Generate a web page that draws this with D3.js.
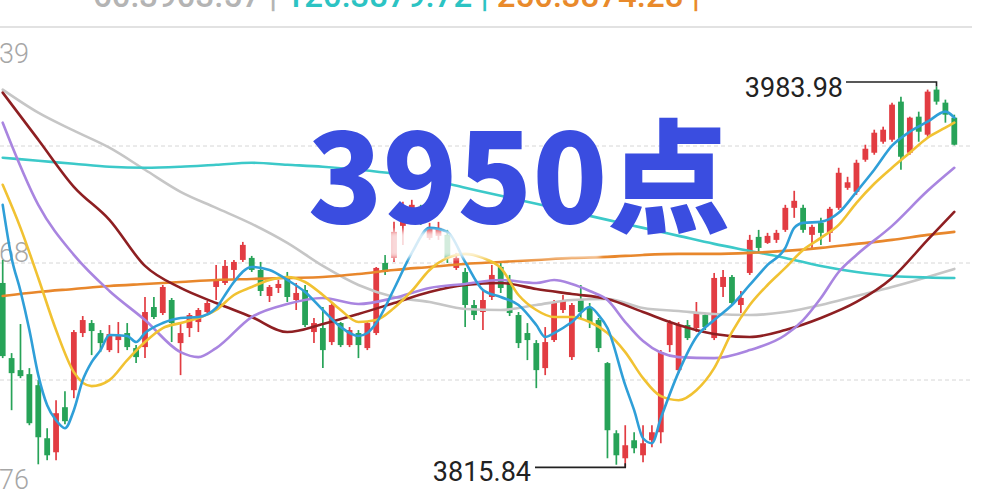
<!DOCTYPE html>
<html><head><meta charset="utf-8">
<script src="https://cdn.jsdelivr.net/npm/d3@7"></script>
<style>html,body{margin:0;padding:0;background:#fff;overflow:hidden}</style>
</head><body>
<svg id="c" width="986" height="493"></svg>
<script>
// ---- data ----
const opens = [3897.26,3864.09,3858.78,3857.01,3852.14,3828.70,3822.51,3842.41,3849.93,3875.15,3879.56,3875.15,3867.62,3872.05,3875.15,3868.51,3868.95,3886.64,3883.99,3889.74,3870.72,3877.36,3880.01,3884.43,3895.49,3897.26,3903.01,3907.43,3908.32,3903.01,3891.51,3895.05,3899.91,3889.74,3894.16,3875.59,3877.36,3871.17,3879.56,3869.84,3875.15,3868.51,3875.15,3906.10,3908.32,3922.47,3927.78,3930.87,3917.16,3918.05,3918.49,3903.89,3902.12,3887.53,3884.43,3891.07,3904.34,3898.59,3883.10,3875.15,3870.72,3859.67,3872.05,3885.32,3864.53,3889.74,3886.64,3880.89,3861.88,3830.91,3819.86,3827.81,3821.18,3827.81,3831.35,3869.84,3858.78,3878.68,3877.36,3883.10,3872.93,3895.49,3899.91,3887.53,3901.68,3917.60,3914.95,3916.28,3920.70,3930.43,3930.43,3918.49,3923.80,3919.38,3930.43,3939.27,3937.51,3951.66,3954.76,3959.62,3960.51,3977.32,3954.76,3970.68,3962.72,3982.63,3976.87,3970.24];
const highs = [3907.43,3866.30,3879.12,3859.67,3854.36,3833.13,3845.51,3849.49,3876.47,3882.66,3880.89,3876.47,3878.68,3880.01,3879.56,3869.84,3891.07,3891.07,3896.37,3890.63,3880.01,3883.99,3886.20,3889.30,3905.22,3907.43,3907.43,3915.39,3909.20,3906.55,3896.37,3898.59,3902.12,3897.26,3896.37,3881.78,3886.64,3888.41,3880.01,3877.80,3876.47,3880.45,3904.30,3909.64,3924.24,3933.09,3933.97,3931.76,3923.80,3924.24,3920.70,3910.53,3903.89,3889.74,3893.72,3905.22,3906.10,3900.80,3884.43,3879.56,3872.05,3877.80,3889.74,3891.95,3888.41,3896.37,3888.41,3881.78,3862.32,3832.24,3834.45,3831.35,3834.45,3834.45,3867.62,3880.89,3880.01,3880.89,3888.86,3883.99,3901.68,3903.01,3900.80,3893.72,3918.49,3920.70,3919.38,3920.70,3931.76,3937.95,3931.76,3922.91,3926.01,3930.87,3948.12,3944.14,3951.66,3958.30,3964.93,3966.26,3976.87,3979.53,3970.68,3972.89,3982.63,3983.98,3978.20,3971.56];
const lows = [3864.09,3841.09,3855.25,3834.45,3817.20,3819.00,3818.97,3834.89,3846.40,3873.38,3865.41,3866.74,3866.74,3866.30,3867.62,3861.88,3864.09,3881.34,3883.10,3871.17,3856.57,3873.38,3875.59,3883.99,3889.74,3896.37,3898.59,3906.55,3902.12,3891.51,3888.86,3892.84,3888.86,3885.32,3877.80,3870.72,3859.67,3869.84,3868.95,3868.95,3864.09,3867.62,3874.26,3900.80,3906.55,3914.07,3926.01,3922.91,3916.28,3916.28,3906.10,3903.01,3877.80,3880.89,3876.47,3889.74,3892.84,3882.66,3868.51,3863.20,3850.82,3856.57,3871.17,3883.99,3863.20,3881.78,3877.36,3866.74,3819.86,3817.00,3815.84,3822.06,3818.09,3824.72,3826.49,3866.74,3857.45,3872.05,3875.59,3876.47,3872.05,3891.07,3887.53,3883.99,3900.80,3910.53,3914.51,3914.95,3919.81,3926.01,3919.38,3912.74,3914.07,3915.39,3929.55,3938.39,3936.18,3950.78,3953.87,3958.74,3959.62,3947.24,3953.87,3959.62,3961.84,3975.99,3968.03,3958.00];
const closes = [3864.97,3857.45,3856.13,3835.34,3829.14,3821.18,3839.76,3836.22,3875.59,3880.89,3876.03,3870.72,3874.70,3874.26,3868.95,3864.53,3884.43,3882.22,3895.49,3879.56,3875.15,3883.10,3885.32,3888.41,3898.59,3904.78,3906.55,3914.07,3903.01,3893.72,3895.49,3896.82,3891.07,3892.84,3878.68,3879.56,3867.62,3887.53,3869.84,3876.47,3869.84,3879.56,3903.89,3902.12,3919.81,3931.32,3931.76,3926.01,3921.59,3921.59,3908.32,3908.32,3887.53,3883.10,3889.74,3900.80,3895.05,3883.99,3870.72,3872.05,3858.78,3871.17,3888.86,3889.74,3887.53,3884.43,3880.01,3868.51,3832.24,3821.18,3825.61,3824.28,3826.49,3831.35,3866.74,3879.56,3878.68,3872.93,3884.43,3877.80,3899.47,3899.91,3888.41,3890.63,3916.28,3912.74,3918.05,3919.38,3930.43,3933.53,3920.70,3922.03,3919.38,3929.99,3945.91,3941.71,3950.33,3956.53,3963.60,3964.93,3975.99,3952.99,3970.24,3964.04,3981.74,3977.32,3971.56,3958.30];

const ma5Days = [0,1,2,3,4,5,6,7,8,9,10,11,12,14,15,16,18,20,22,24,25,26,28,30,32,34,36,38,40,41,42,44,46,48,50,52,54,56,58,60,61,62,64,66,67,68,70,71,72,73,74,76,78,80,82,84,86,88,89,90,92,94,96,98,100,102,104,106,107];
const ma5 = [3931.76,3908.32,3893.72,3876.47,3856.57,3843.30,3836.67,3833.13,3841.09,3854.36,3862.32,3867.62,3874.26,3873.82,3871.17,3875.15,3879.56,3881.78,3882.22,3886.20,3891.95,3897.70,3904.34,3903.01,3898.59,3893.28,3885.32,3877.80,3873.82,3875.15,3879.56,3894.61,3910.53,3921.59,3919.81,3906.55,3894.16,3891.07,3887.53,3878.68,3873.38,3875.15,3880.01,3886.64,3883.10,3877.36,3852.14,3841.09,3828.70,3826.49,3837.55,3857.89,3873.38,3880.89,3887.53,3896.37,3905.22,3912.74,3921.59,3923.80,3924.24,3928.22,3937.51,3947.24,3957.85,3964.04,3968.47,3972.89,3970.24];

const ma10Days = [0,2,4,6,8,10,12,14,16,18,20,22,24,26,28,30,32,34,36,38,40,42,44,46,48,50,52,54,56,58,60,62,64,66,68,70,72,74,76,78,80,82,84,86,88,90,92,94,96,98,100,102,104,106,107];
const ma10 = [3940.60,3921.59,3899.47,3876.47,3857.89,3851.70,3854.36,3863.20,3871.17,3877.36,3879.56,3881.78,3885.32,3891.95,3895.49,3898.59,3899.91,3897.70,3891.95,3885.32,3880.01,3880.89,3886.20,3893.72,3903.01,3908.32,3910.09,3908.32,3903.89,3891.95,3885.32,3882.22,3882.22,3880.01,3875.15,3866.74,3855.25,3847.28,3845.51,3849.93,3859.67,3875.59,3887.53,3896.37,3903.89,3911.86,3917.16,3922.91,3932.64,3941.05,3948.12,3954.76,3961.39,3965.81,3968.03];

const ma20Days = [0,4,8,12,16,20,22,24,28,32,36,40,44,48,52,56,60,62,64,66,68,70,72,76,80,84,88,90,92,94,96,100,104,107];
const ma20 = [3968.03,3931.76,3909.64,3893.72,3880.89,3866.74,3864.53,3868.51,3882.22,3887.97,3890.63,3887.97,3890.63,3895.05,3896.82,3898.59,3897.26,3898.59,3896.82,3893.72,3889.74,3880.01,3871.61,3864.53,3864.09,3867.62,3874.26,3880.89,3890.63,3902.12,3909.64,3922.47,3937.95,3948.12];

const slowDays = [0,4,8,12,16,20,24,28,32,36,40,44,48,52,56,60,64,68,72,76,80,84,88,92,96,100,104,107];
const ma30 = [3981.30,3960.51,3939.72,3925.12,3904.78,3895.05,3888.41,3882.22,3875.59,3879.12,3883.55,3888.41,3893.28,3896.37,3897.26,3894.61,3892.40,3890.19,3884.43,3878.68,3874.70,3873.38,3876.47,3881.78,3888.86,3899.47,3916.28,3928.66];
const ma60 = [3982.62,3972.45,3964.49,3956.97,3947.24,3937.51,3930.43,3923.35,3914.95,3904.78,3896.37,3891.07,3888.86,3885.76,3885.32,3887.53,3889.74,3890.19,3886.20,3884.87,3883.55,3883.10,3884.43,3887.53,3891.51,3895.49,3899.91,3903.45];
const ma120 = [3952.55,3951.22,3949.89,3948.57,3948.12,3948.57,3949.45,3950.33,3949.45,3948.57,3947.24,3945.47,3942.81,3939.27,3935.73,3932.20,3928.66,3925.12,3921.59,3918.05,3914.51,3911.41,3908.32,3904.78,3902.12,3900.36,3899.69,3899.47];
const ma250 = [3891.51,3893.28,3894.61,3895.93,3896.82,3897.70,3898.59,3899.03,3899.47,3899.91,3901.24,3903.01,3904.34,3905.66,3906.55,3907.43,3908.32,3908.76,3909.64,3910.09,3910.09,3910.53,3911.41,3912.74,3914.51,3916.28,3918.49,3919.81];

const axisLabels = ["4009.39","3906.68","3802.76"];
const legendParts = [["60:3903.57 | ","#b4b4b4"],["120:3879.72 | ","#2cc3c3"],["250:3874.28 |","#e98a2b"]];
const titleText = "3950点";

// ---- chart ----
const svg = d3.select('#c');
const yTop = 4009.39, yBot = 3802.76;
const y = d3.scaleLinear().domain([yBot, yTop]).range([497, 29]);
const x = d3.scaleLinear().domain([0, opens.length - 1]).range([2.7, 954.3]);

// legend row (scrolled partly out of view, as in the source)
const lg = svg.append('text').attr('x', 93).attr('y', 7)
  .style('font-family', 'Roboto, sans-serif').style('font-size', '33px').style('font-weight', 500);
legendParts.forEach(p => lg.append('tspan').attr('fill', p[1]).text(p[0]));

svg.append('line').attr('x1', 0).attr('x2', 972).attr('y1', 27).attr('y2', 27)
  .attr('stroke', '#e2e2e2').attr('stroke-width', 2);

// grid
const gridVals = [1, 2, 3].map(k => yTop - k * (yTop - yBot) / 4);
svg.selectAll('.grid').data(gridVals).enter().append('line')
  .attr('x1', 0).attr('x2', 972).attr('y1', d => y(d)).attr('y2', d => y(d))
  .attr('stroke', '#d6d6d6').attr('stroke-width', 1).attr('stroke-dasharray', '4,3');

// axis labels
const labY = [y(yTop) + 34, y((yTop + yBot) / 2) - 1, y(yBot) - 8];
svg.selectAll('.al').data(axisLabels).enter().append('text')
  .attr('x', 29).attr('y', (d, i) => labY[i]).attr('text-anchor', 'end')
  .attr('fill', '#a6a6a6').style('font-family', 'Roboto, sans-serif').style('font-weight', 300)
  .style('font-size', '27px').text(d => d);

// candles
const up = '#e23c42', dn = '#27a358';
const bw = 5.8;
const idx = d3.range(opens.length);
const cg = svg.append('g');
cg.selectAll('.wick').data(idx).enter().append('line')
  .attr('x1', i => x(i)).attr('x2', i => x(i))
  .attr('y1', i => y(highs[i])).attr('y2', i => y(lows[i]))
  .attr('stroke', i => closes[i] >= opens[i] ? up : dn).attr('stroke-width', 1.7);
cg.selectAll('.body').data(idx).enter().append('rect')
  .attr('x', i => x(i) - bw / 2).attr('width', bw)
  .attr('y', i => y(Math.max(opens[i], closes[i])))
  .attr('height', i => Math.max(1.2, Math.abs(y(opens[i]) - y(closes[i]))))
  .attr('fill', i => closes[i] >= opens[i] ? up : dn);

// moving averages
const lines = [
  [slowDays, ma60, '#c6c6c6'],
  [slowDays, ma120, '#3cc9c9'],
  [slowDays, ma250, '#e8872c'],
  [slowDays, ma30, '#8e1f22'],
  [ma20Days, ma20, '#a985e0'],
  [ma10Days, ma10, '#f1c232'],
  [ma5Days, ma5, '#2f9fd8']
];
const lineGen = d3.line().x(d => x(d[0])).y(d => y(d[1])).curve(d3.curveMonotoneX);
lines.forEach(([days, vals, col]) => {
  svg.append('path').datum(days.map((d, k) => [d, vals[k]]))
    .attr('d', lineGen).attr('fill', 'none').attr('stroke', col)
    .attr('stroke-width', 2.6).attr('stroke-linejoin', 'round').attr('stroke-linecap', 'round');
});

// faded watermark band
const defs = svg.append('defs');
defs.append('filter').attr('id', 'bl').append('feGaussianBlur').attr('stdDeviation', 2.5);
svg.append('rect').attr('x', 388).attr('y', 231).attr('width', 212).attr('height', 27)
  .attr('fill', '#fff').attr('opacity', 0.8).attr('filter', 'url(#bl)');

// title
svg.append('text').attr('x', 519).attr('y', 223).attr('text-anchor', 'middle')
  .attr('fill', '#3a4de0').style('font-family', '"Noto Sans CJK SC", "Noto Sans", sans-serif')
  .style('font-weight', 900).style('font-size', '123px').text(titleText);

// max / min annotations
const iMax = d3.maxIndex(highs), iMin = d3.minIndex(lows);
const yMax = y(highs[iMax]), yMin = y(lows[iMin]);
svg.append('path').attr('d', `M846,${yMax - 4.5}H${x(iMax)}V${yMax}`)
  .attr('fill', 'none').attr('stroke', '#222').attr('stroke-width', 1.6);
svg.append('text').attr('x', 843).attr('y', yMax + 10).attr('text-anchor', 'end')
  .attr('fill', '#222').style('font-family', 'Roboto, sans-serif').style('font-size', '27px')
  .text(highs[iMax].toFixed(2));
svg.append('path').attr('d', `M535,${yMin}H${x(iMin)}V${yMin - 4}`)
  .attr('fill', 'none').attr('stroke', '#222').attr('stroke-width', 1.6);
svg.append('text').attr('x', 531).attr('y', yMin + 14).attr('text-anchor', 'end')
  .attr('fill', '#222').style('font-family', 'Roboto, sans-serif').style('font-size', '27px')
  .text(lows[iMin].toFixed(2));
</script>
</body></html>
